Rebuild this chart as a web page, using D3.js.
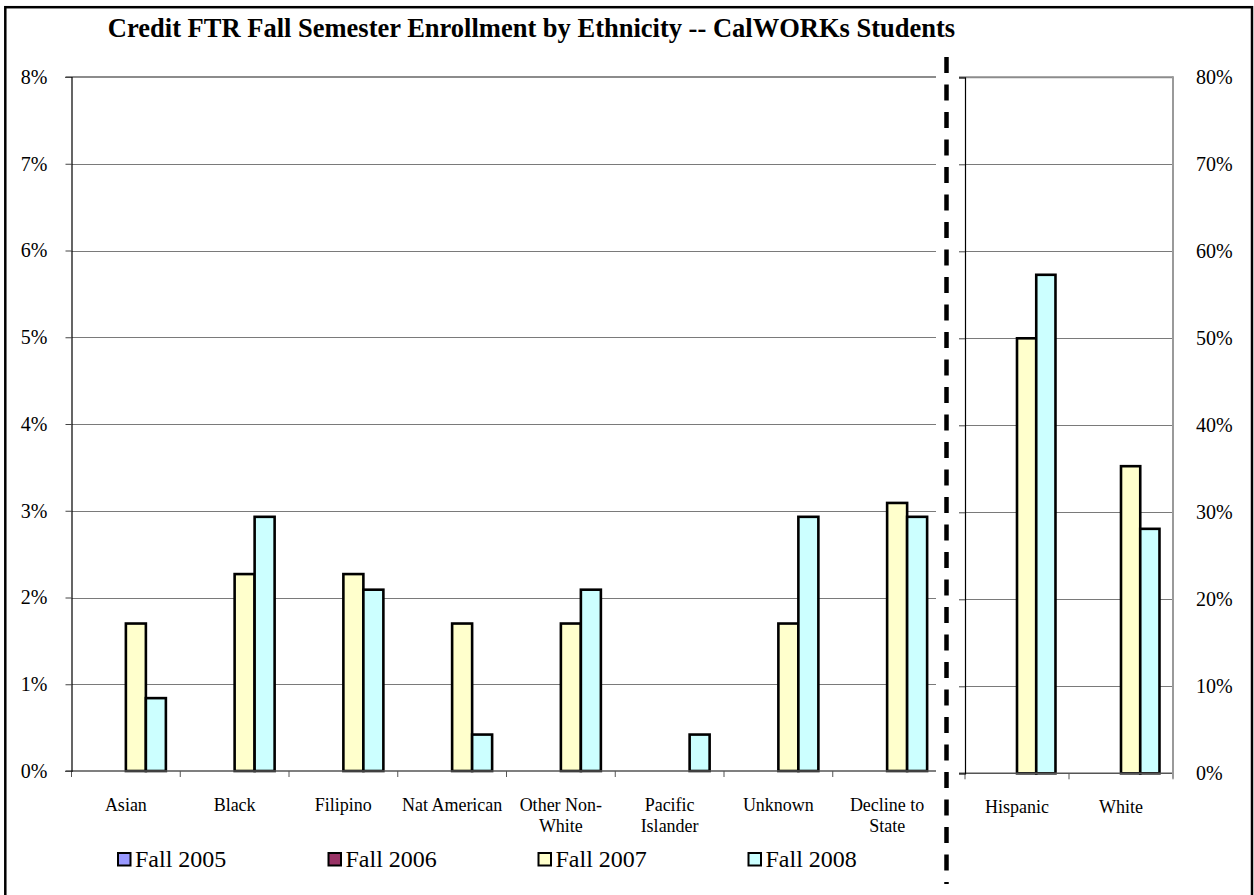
<!DOCTYPE html>
<html>
<head>
<meta charset="utf-8">
<script src="https://cdn.jsdelivr.net/npm/d3@7"></script>
<style>
  html, body { margin: 0; padding: 0; background: #fff; }
  svg { display: block; }
  text { font-family: "Liberation Serif", "Times New Roman", serif; fill: #000; }
</style>
</head>
<body>
<svg id="chart" width="1254" height="895"></svg>
<script>
// ---------------- DATA ----------------
const title = "Credit FTR Fall Semester Enrollment by Ethnicity -- CalWORKs Students";
const series = ["Fall 2005", "Fall 2006", "Fall 2007", "Fall 2008"];
const seriesColors = ["#9999FF", "#993366", "#FFFFCC", "#CCFFFF"];

// Left panel (small groups), scale 0-8%
const leftCategories = ["Asian", "Black", "Filipino", "Nat American", "Other Non-White", "Pacific Islander", "Unknown", "Decline to State"];
const leftLabels = [["Asian"], ["Black"], ["Filipino"], ["Nat American"], ["Other Non-", "White"], ["Pacific", "Islander"], ["Unknown"], ["Decline to", "State"]];
const leftFall2005 = [0, 0, 0, 0, 0, 0, 0, 0];
const leftFall2006 = [0, 0, 0, 0, 0, 0, 0, 0];
const leftFall2007 = [0.0170, 0.0227, 0.0227, 0.0170, 0.0170, 0, 0.0170, 0.0309];
const leftFall2008 = [0.0084, 0.0293, 0.0209, 0.0042, 0.0209, 0.0042, 0.0293, 0.0293];
const leftTicks = [0, 0.01, 0.02, 0.03, 0.04, 0.05, 0.06, 0.07, 0.08];

// Right panel (large groups), scale 0-80%
const rightCategories = ["Hispanic", "White"];
const rightFall2005 = [0, 0];
const rightFall2006 = [0, 0];
const rightFall2007 = [0.500, 0.353];
const rightFall2008 = [0.573, 0.281];
const rightTicks = [0, 0.1, 0.2, 0.3, 0.4, 0.5, 0.6, 0.7, 0.8];

// ---------------- DRAW ----------------
const svg = d3.select("#chart");
svg.append("rect").attr("width", 1254).attr("height", 895).attr("fill", "#fff");

const pct = d3.format(".0%");

function buildRows(cats, arrs) {
  return cats.map((c, i) => ({ cat: c, vals: arrs.map((a, s) => ({ s: series[s], v: a[i], color: seriesColors[s] })) }));
}

function panel(opts) {
  const { cats, labels, rows, x0, x1, yTop, yBot, max, ticks, pad, clipRight, gridRight } = opts;
  const g = svg.append("g");
  const x = d3.scaleBand().domain(cats).range([x0, x1]).paddingInner(pad).paddingOuter(pad / 2);
  const xs = d3.scaleBand().domain(series).range([0, x.bandwidth()]);
  const y = d3.scaleLinear().domain([0, max]).range([yBot, yTop]);
  const clipId = "clip" + Math.round(x0);
  svg.append("clipPath").attr("id", clipId).append("rect")
    .attr("x", x0 - 10).attr("y", 0).attr("width", clipRight - x0 + 10).attr("height", 895);
  const gc = g.append("g").attr("clip-path", `url(#${clipId})`);

  // gridlines
  gc.selectAll("line.grid").data(ticks.filter(t => t > 0 && t < max)).join("line")
    .attr("x1", x0).attr("x2", gridRight)
    .attr("y1", d => Math.round(y(d)) + 0.5).attr("y2", d => Math.round(y(d)) + 0.5)
    .attr("stroke", "#7a7a7a").attr("stroke-width", 1);
  // top border
  gc.append("line").attr("x1", x0 - 6).attr("x2", gridRight)
    .attr("y1", y(max)).attr("y2", y(max)).attr("stroke", "#8c8c8c").attr("stroke-width", 2);

  // bars
  const grp = gc.selectAll("g.cat").data(rows).join("g")
    .attr("transform", d => `translate(${x(d.cat)},0)`);
  grp.selectAll("rect").data(d => d.vals.filter(v => v.v > 0)).join("rect")
    .attr("x", d => xs(d.s)).attr("width", xs.bandwidth())
    .attr("y", d => y(d.v)).attr("height", d => y(0) - y(d.v))
    .attr("fill", d => d.color).attr("stroke", "#000").attr("stroke-width", 2.6);

  // bottom axis line and category ticks
  gc.append("line").attr("x1", x0 - 6).attr("x2", gridRight)
    .attr("y1", y(0)).attr("y2", y(0)).attr("stroke", "#555").attr("stroke-width", 1.5);
  const step = x.step();
  const bounds = d3.range(cats.length + 1).map(i => x0 + i * step);
  gc.selectAll("line.ctick").data(bounds).join("line")
    .attr("x1", d => d).attr("x2", d => d).attr("y1", y(0)).attr("y2", y(0) + 6)
    .attr("stroke", "#555").attr("stroke-width", 1);

  // left axis line + ticks
  const ax = d3.axisLeft(y).tickValues(ticks).tickSize(6).tickFormat("");
  const axg = g.append("g").attr("transform", `translate(${x0},0)`).call(ax);
  axg.select(".domain").attr("stroke", "#000").attr("stroke-width", 1.2);
  axg.selectAll(".tick line").attr("stroke", "#444");

  // category labels
  g.selectAll("text.cat").data(cats).join("text")
    .attr("x", d => x(d) + x.bandwidth() / 2)
    .attr("y", y(0) + 39.5)
    .attr("text-anchor", "middle")
    .style("font-size", "18px")
    .each(function (d, i) {
      const t = d3.select(this);
      labels[i].forEach((ln, k) => {
        t.append("tspan").attr("x", x(d) + x.bandwidth() / 2).attr("dy", k === 0 ? 0 : 21.5).text(ln);
      });
    });
  return { g, x, y };
}

// Left panel
const L = panel({
  cats: leftCategories, labels: leftLabels,
  rows: buildRows(leftCategories, [leftFall2005, leftFall2006, leftFall2007, leftFall2008]),
  x0: 71.5, x1: 941.5, yTop: 77, yBot: 771, max: 0.08, ticks: leftTicks, pad: 0.2644,
  clipRight: 936, gridRight: 936
});
L.g.append("g").attr("transform", "translate(71.5,0)")
  .call(d3.axisLeft(L.y).tickValues(leftTicks).tickSize(0).tickPadding(24).tickFormat(pct))
  .call(s => s.select(".domain").remove())
  .selectAll("text").style("font-size", "20px").style("font-family", '"Liberation Serif", "Times New Roman", serif');

// Right panel
const R = panel({
  cats: rightCategories, labels: rightCategories.map(c => [c]),
  rows: buildRows(rightCategories, [rightFall2005, rightFall2006, rightFall2007, rightFall2008]),
  x0: 965, x1: 1173, yTop: 77.3, yBot: 773.3, max: 0.8, ticks: rightTicks, pad: 0.26,
  clipRight: 1180, gridRight: 1173
});
// right border
R.g.append("line").attr("x1", 1173).attr("x2", 1173).attr("y1", 76.3).attr("y2", 778)
  .attr("stroke", "#9a9a9a").attr("stroke-width", 2);
R.g.append("g").attr("transform", "translate(1173,0)")
  .call(d3.axisRight(R.y).tickValues(rightTicks).tickSize(0).tickPadding(23).tickFormat(pct))
  .call(s => s.select(".domain").remove())
  .selectAll("text").style("font-size", "20px").style("font-family", '"Liberation Serif", "Times New Roman", serif');

// dashed divider
svg.append("line").attr("x1", 946.5).attr("x2", 946.5).attr("y1", 57).attr("y2", 884)
  .attr("stroke", "#000").attr("stroke-width", 4.5).attr("stroke-dasharray", "16,11.5");

// title
svg.append("text").attr("x", 531.5).attr("y", 37).attr("text-anchor", "middle")
  .style("font-size", "26.5px").style("font-weight", "bold").text(title);

// legend
const legendX = [118, 328.5, 538.5, 748.5];
const lg = svg.selectAll("g.leg").data(series).join("g")
  .attr("transform", (d, i) => `translate(${legendX[i]},0)`);
lg.append("rect").attr("x", 0).attr("y", 853).attr("width", 12.5).attr("height", 12.5)
  .attr("fill", (d, i) => seriesColors[i]).attr("stroke", "#000").attr("stroke-width", 2);
lg.append("text").attr("x", 17).attr("y", 867).style("font-size", "24px").text(d => d);

// outer border
svg.append("rect").attr("x", 5.3).attr("y", 7.2).attr("width", 1246.7).attr("height", 1000)
  .attr("fill", "none").attr("stroke", "#000").attr("stroke-width", 2.5);
</script>
</body>
</html>
